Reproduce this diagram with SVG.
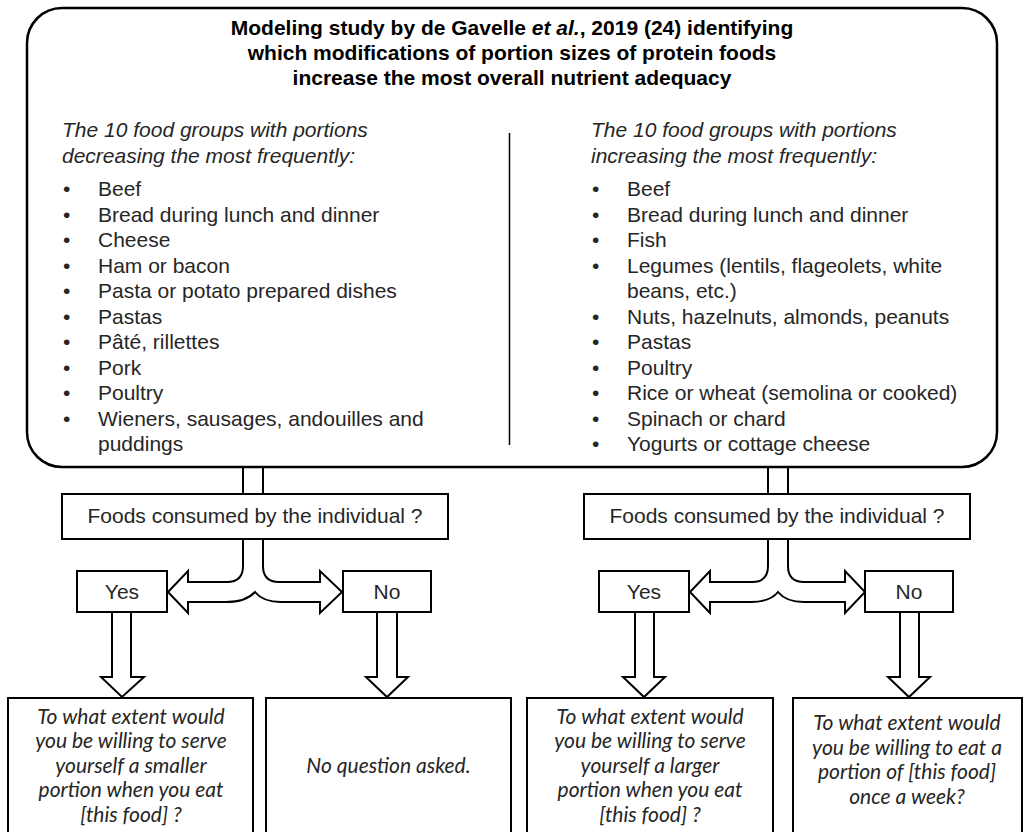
<svg xmlns="http://www.w3.org/2000/svg" width="1024" height="832" viewBox="0 0 1024 832">
<style>
.ln{fill:none;stroke:#000;stroke-width:2}
.box{fill:#fff;stroke:#000;stroke-width:2}
.arr{fill:#fff;stroke:#000;stroke-width:2;stroke-linejoin:miter}
.t{font-family:"Liberation Sans",Arial,sans-serif;font-size:21px;fill:#262626}
.ti{font-family:"Liberation Sans",Arial,sans-serif;font-size:21px;font-style:italic;fill:#262626}
.hd{font-family:"Liberation Sans",Arial,sans-serif;font-size:21px;font-weight:bold;fill:#000;text-anchor:middle}
.c{text-anchor:middle}
.q{font-family:Lato,"Open Sans",sans-serif;font-size:21px;font-style:italic;fill:#262626;text-anchor:middle}
</style>
<rect width="1024" height="832" fill="#fff"/>

<g id="main">
<rect x="27" y="8" width="970" height="459" rx="35" ry="35" fill="#fff" stroke="#000" stroke-width="2.5"/>
<text class="hd" x="512" y="35">Modeling study by de Gavelle <tspan font-style="italic">et al.</tspan>, 2019 (24) identifying</text>
<text class="hd" x="512" y="60">which modifications of portion sizes of protein foods</text>
<text class="hd" x="512" y="85">increase the most overall nutrient adequacy</text>
<line x1="509.5" y1="133" x2="509.5" y2="445" stroke="#000" stroke-width="1.5"/>
<g id="left-list">
<text class="ti" x="62" y="137">The 10 food groups with portions</text>
<text class="ti" x="62" y="163">decreasing the most frequently:</text>
<g class="t">
<text x="63" y="196">•</text><text x="98" y="196">Beef</text>
<text x="63" y="221.5">•</text><text x="98" y="221.5">Bread during lunch and dinner</text>
<text x="63" y="247">•</text><text x="98" y="247">Cheese</text>
<text x="63" y="272.5">•</text><text x="98" y="272.5">Ham or bacon</text>
<text x="63" y="298">•</text><text x="98" y="298">Pasta or potato prepared dishes</text>
<text x="63" y="323.5">•</text><text x="98" y="323.5">Pastas</text>
<text x="63" y="349">•</text><text x="98" y="349">Pâté, rillettes</text>
<text x="63" y="374.5">•</text><text x="98" y="374.5">Pork</text>
<text x="63" y="400">•</text><text x="98" y="400">Poultry</text>
<text x="63" y="425.5">•</text><text x="98" y="425.5">Wieners, sausages, andouilles and</text>
<text x="98" y="451">puddings</text>
</g>
</g>
<g id="right-list">
<text class="ti" x="591" y="137">The 10 food groups with portions</text>
<text class="ti" x="591" y="163">increasing the most frequently:</text>
<g class="t">
<text x="592" y="196">•</text><text x="627" y="196">Beef</text>
<text x="592" y="221.5">•</text><text x="627" y="221.5">Bread during lunch and dinner</text>
<text x="592" y="247">•</text><text x="627" y="247">Fish</text>
<text x="592" y="272.5">•</text><text x="627" y="272.5">Legumes (lentils, flageolets, white</text>
<text x="627" y="298">beans, etc.)</text>
<text x="592" y="323.5">•</text><text x="627" y="323.5">Nuts, hazelnuts, almonds, peanuts</text>
<text x="592" y="349">•</text><text x="627" y="349">Pastas</text>
<text x="592" y="374.5">•</text><text x="627" y="374.5">Poultry</text>
<text x="592" y="400">•</text><text x="627" y="400">Rice or wheat (semolina or cooked)</text>
<text x="592" y="425.5">•</text><text x="627" y="425.5">Spinach or chard</text>
<text x="592" y="451">•</text><text x="627" y="451">Yogurts or cottage cheese</text>
</g>
</g>
</g>

<g id="connectors">
<path class="ln" d="M243 468 V494 M263 468 V494"/>
<path class="ln" d="M768 468 V494 M788 468 V494"/>
<path class="arr" d="M243 539 V566 Q243 582 227 582 H188 V571 L168 592 L188 613 V602 H226 Q246 602 255 592 Q263 602 281 602 H320 V613 L342 592 L320 571 V582 H279 Q263 582 263 566 V539"/>
<path class="arr" d="M768 539 V566 Q768 582 752 582 H710 V571 L690 592 L710 613 V602 H751 Q770 602 778 592 Q786 602 804 602 H845 V613 L865 592 L845 571 V582 H804 Q788 582 788 566 V539"/>
<path class="arr" d="M112 612 V677 H101 L122 697 L144 677 H131 V612"/>
<path class="arr" d="M377 612 V677 H366 L387 697 L408 677 H397 V612"/>
<path class="arr" d="M635 612 V677 H623 L644 697 L665 677 H654 V612"/>
<path class="arr" d="M900 612 V677 H888 L909 697 L930 677 H919 V612"/>
</g>

<g id="foods-left">
<rect class="box" x="62" y="494" width="386" height="45"/>
<text class="t c" x="255" y="523">Foods consumed by the individual ?</text>
</g>
<g id="foods-right">
<rect class="box" x="584" y="494" width="386" height="45"/>
<text class="t c" x="777" y="523">Foods consumed by the individual ?</text>
</g>
<g id="yes-left">
<rect class="box" x="77" y="571" width="90" height="41"/>
<text class="t c" x="122" y="599">Yes</text>
</g>
<g id="no-left">
<rect class="box" x="343" y="571" width="88" height="41"/>
<text class="t c" x="387" y="599">No</text>
</g>
<g id="yes-right">
<rect class="box" x="599" y="571" width="90" height="41"/>
<text class="t c" x="644" y="599">Yes</text>
</g>
<g id="no-right">
<rect class="box" x="865" y="571" width="88" height="41"/>
<text class="t c" x="909" y="599">No</text>
</g>

<g id="q1">
<rect class="box" x="8" y="698" width="245" height="150"/>
<text class="q" x="131" y="723.5">To what extent would</text>
<text class="q" x="131" y="748">you be willing to serve</text>
<text class="q" x="131" y="772.5">yourself a smaller</text>
<text class="q" x="131" y="797">portion when you eat</text>
<text class="q" x="131" y="821.5">[this food] ?</text>
</g>
<g id="q2">
<rect class="box" x="266" y="698" width="245" height="150"/>
<text class="q" x="388.5" y="773">No question asked.</text>
</g>
<g id="q3">
<rect class="box" x="527" y="698" width="246" height="150"/>
<text class="q" x="650" y="723.5">To what extent would</text>
<text class="q" x="650" y="748">you be willing to serve</text>
<text class="q" x="650" y="772.5">yourself a larger</text>
<text class="q" x="650" y="797">portion when you eat</text>
<text class="q" x="650" y="821.5">[this food] ?</text>
</g>
<g id="q4">
<rect class="box" x="793" y="698" width="229" height="150"/>
<text class="q" x="907" y="730">To what extent would</text>
<text class="q" x="907" y="754.5">you be willing to eat a</text>
<text class="q" x="907" y="779">portion of [this food]</text>
<text class="q" x="907" y="803.5">once a week?</text>
</g>
</svg>
